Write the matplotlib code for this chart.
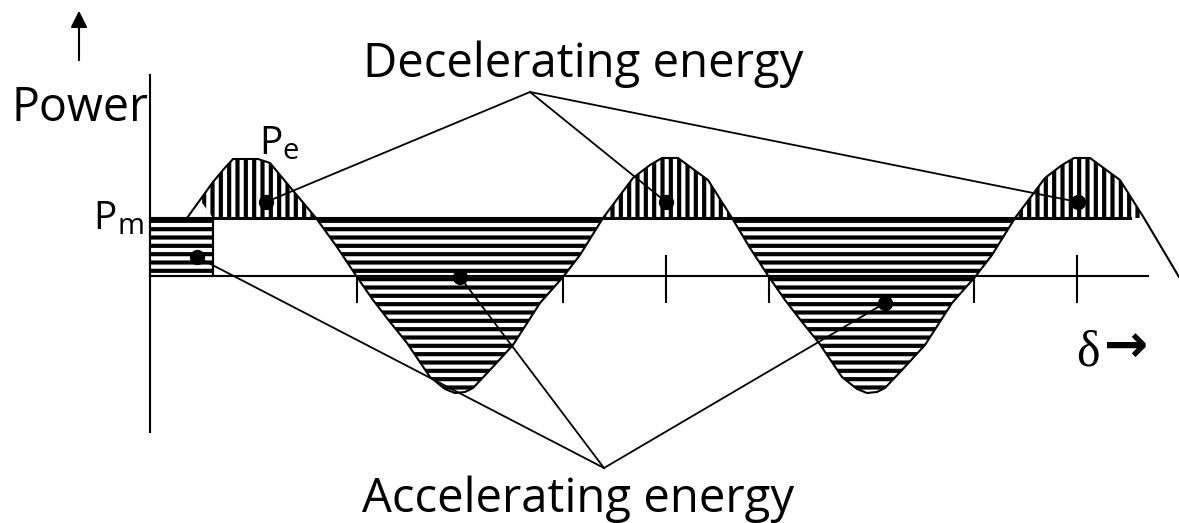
import matplotlib.pyplot as plt
from matplotlib.patches import Rectangle
import numpy as np

# readings, in pixel units (y grows downward)
curve_x = [187, 200, 213, 223, 233, 258, 270, 290, 316, 337, 357, 373, 390, 407, 430, 445, 455,
           465, 473, 490, 513, 540, 563, 580, 603, 633, 650, 662, 678, 708, 732, 750, 769, 785,
           802, 819, 842, 857, 867, 877, 885, 902, 925, 952, 975, 992, 1015, 1045, 1062, 1074,
           1090, 1120, 1144, 1179]
curve_y = [218, 200, 182, 170, 159, 159, 163, 187, 218, 247, 277, 300, 322, 343, 377, 389, 393,
           392, 388, 370, 345, 303, 277, 255, 218, 178, 165, 158, 158, 180, 218, 248, 277, 300,
           322, 343, 377, 389, 393, 392, 388, 370, 345, 303, 277, 255, 218, 178, 165, 158,
           158, 180, 218, 277]
pm_level = 218
axis_level = 276
origin_x = 150
switch_x = 213
tick_x = [357, 563, 666, 769, 974, 1077]
tick_long = [False, False, True, False, False, True]
decel_dot_x = [266, 666, 1078]
decel_dot_y = [202, 202, 202]
accel_dot_x = [197, 460, 885]
accel_dot_y = [257, 277, 303]
decel_apex = (530, 92)
accel_apex = (604, 468)

plt.rcParams['hatch.linewidth'] = 3.0
plt.rcParams['font.family'] = ['Open Sans', 'DejaVu Sans']

fig = plt.figure(figsize=(11.79, 5.23), dpi=100)
ax = fig.add_axes([0, 0, 1, 1])
ax.set_xlim(0, 1179)
ax.set_ylim(523, 0)
ax.axis('off')

x = np.array(curve_x)
y = np.array(curve_y)

# decelerating areas (vertical hatch)
ax.fill_between(x, y, pm_level, where=(x >= switch_x) & (y <= pm_level), interpolate=True,
                facecolor='white', edgecolor='black', hatch='||', linewidth=0)
# accelerating areas (horizontal hatch)
ax.fill_between(x, y, pm_level, where=(x >= 316) & (x <= 1015) & (y >= pm_level), interpolate=True,
                facecolor='white', edgecolor='black', hatch='--', linewidth=0)
ax.add_patch(Rectangle((origin_x, pm_level), switch_x - origin_x, axis_level - pm_level,
                       facecolor='white', edgecolor='black', hatch='--', linewidth=1.5))

# axes
ax.plot([origin_x, origin_x], [75, 432], color='black', lw=1.5)
ax.plot([origin_x, 1148], [axis_level, axis_level], color='black', lw=1.5)
ax.plot([origin_x, 1130], [pm_level, pm_level], color='black', lw=2.2)
ax.plot([switch_x, switch_x], [182, axis_level], color='black', lw=1.5)
for tx, lg in zip(tick_x, tick_long):
    ax.plot([tx, tx], [256 if lg else axis_level, 302], color='black', lw=1.5)

ax.plot(x, y, color='black', lw=1.5)

# leaders
for dx, dy in zip(decel_dot_x, decel_dot_y):
    ax.plot([decel_apex[0], dx], [decel_apex[1], dy], color='black', lw=1.3)
for dx, dy in zip(accel_dot_x, accel_dot_y):
    ax.plot([accel_apex[0], dx], [accel_apex[1], dy], color='black', lw=1.3)
ax.plot(decel_dot_x + accel_dot_x, decel_dot_y + accel_dot_y, 'o', color='black', markersize=10)

ax.annotate('', xy=(79, 8), xytext=(79, 63),
            arrowprops=dict(arrowstyle='-|>', lw=1.5, color='black', mutation_scale=25))

ax.text(583, 77, 'Decelerating energy', fontsize=34, ha='center', va='baseline')
ax.text(578, 512, 'Accelerating energy', fontsize=34, ha='center', va='baseline')
ax.text(12, 121, 'Power', fontsize=33.5, ha='left', va='baseline')
ax.text(93, 229, 'P', fontsize=28, ha='left', va='baseline')
ax.text(117, 234, 'm', fontsize=21, ha='left', va='baseline')
ax.text(259, 154, 'P', fontsize=28, ha='left', va='baseline')
ax.text(282, 159, 'e', fontsize=21, ha='left', va='baseline')
d = ax.text(1076, 366, 'δ', fontsize=36, ha='left', va='baseline', family='Liberation Serif')
d.set_clip_path(Rectangle((0, 0), 1179, 363, transform=ax.transData))
ax.text(1104, 362, '→', fontsize=38, ha='left', va='baseline', family='DejaVu Sans', fontweight='bold')

fig.savefig('out.png', dpi=100)
